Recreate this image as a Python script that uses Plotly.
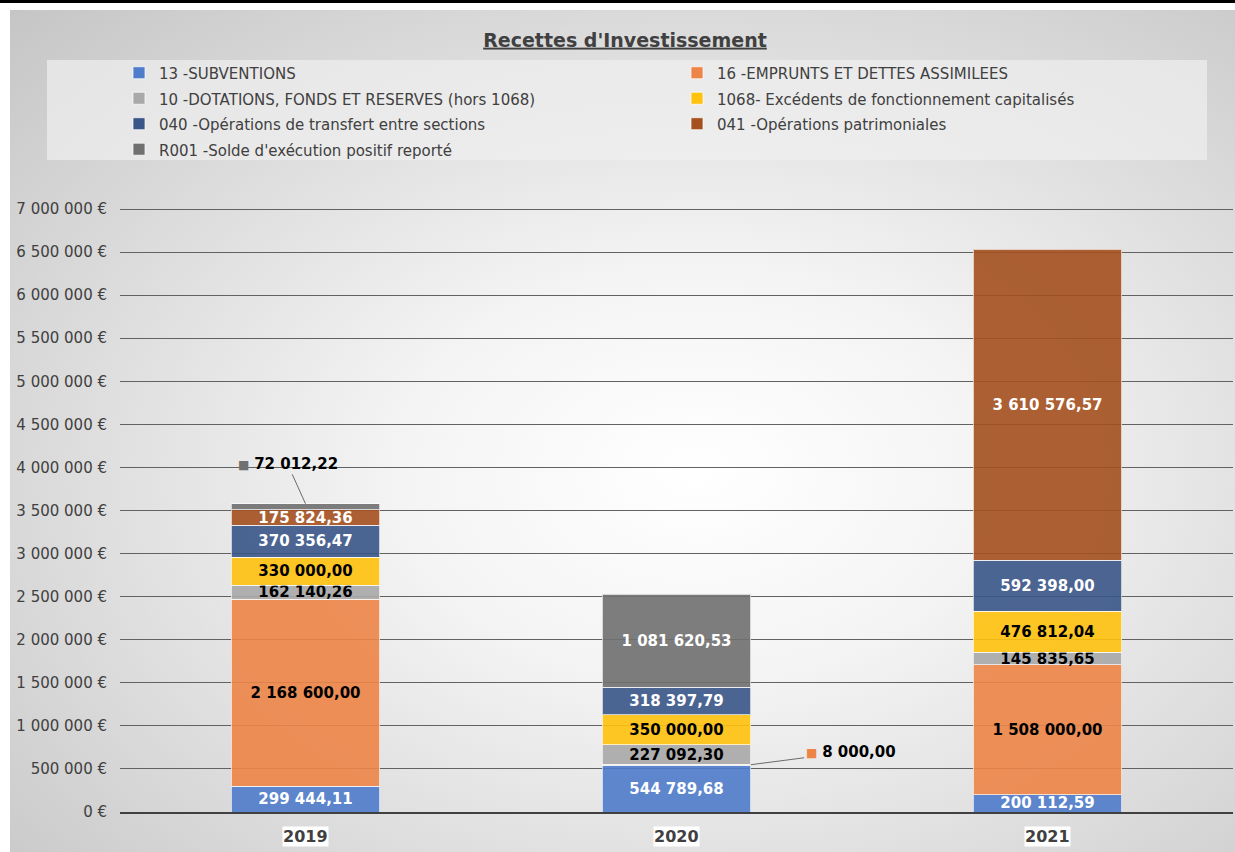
import base64
import plotly.graph_objects as go

# ---------------- data ----------------
years = ["2019", "2020", "2021"]
series_names = [
    "13 -SUBVENTIONS",
    "16 -EMPRUNTS ET DETTES ASSIMILEES",
    "10 -DOTATIONS, FONDS ET RESERVES (hors 1068)",
    "1068- Excédents de fonctionnement capitalisés",
    "040 -Opérations de transfert entre sections",
    "041 -Opérations patrimoniales",
    "R001 -Solde d'exécution positif reporté",
]
v_13 = [299444.11, 544789.68, 200112.59]
v_16 = [2168600.00, 8000.00, 1508000.00]
v_10 = [162140.26, 227092.30, 145835.65]
v_1068 = [330000.00, 350000.00, 476812.04]
v_040 = [370356.47, 318397.79, 592398.00]
v_041 = [175824.36, None, 3610576.57]
v_r001 = [72012.22, 1081620.53, None]
y_ticks = [0, 500000, 1000000, 1500000, 2000000, 2500000, 3000000,
           3500000, 4000000, 4500000, 5000000, 5500000, 6000000, 6500000, 7000000]

series_values = [v_13, v_16, v_10, v_1068, v_040, v_041, v_r001]
colors = ["#4f7ccb", "#ee8548", "#a9a9a9", "#ffc20e", "#3a5688", "#a4501f", "#707070"]
text_colors = ["white", "black", "black", "black", "white", "white", "white"]

# small segments labelled with callouts instead of inside text
callouts = [(6, 0), (1, 1)]  # (series index, year index)


def fmt(v, dec=2):
    return f"{v:,.{dec}f}".replace(",", " ").replace(".", ",")


tick_text = [fmt(t, 0) + " €" for t in y_ticks]

# ---------------- geometry ----------------
W, H = 1235, 852
ML, MR, MT, MB = 120, 2, 208, 40
PW = W - ML - MR
PH = H - MT - MB
BAR_W = 0.4
Y_MAX = 7012000


def px_x(px):
    return (px - ML) / PW


def px_y(py):
    return (H - MB - py) / PH


FONT = "DejaVu Sans"

fig = go.Figure()
for i, (name, vals) in enumerate(zip(series_names, series_values)):
    texts = []
    for j, v in enumerate(vals):
        if v is None or (i, j) in callouts:
            texts.append("")
        else:
            texts.append(fmt(v))
    fig.add_trace(go.Bar(
        name=f'<span style="font-size:15px">{name}</span>',
        x=years, y=vals, text=texts,
        textposition="inside", insidetextanchor="middle", textangle=0,
        constraintext="none",
        textfont=dict(family=FONT, size=15, color=text_colors[i], weight="bold"),
        marker=dict(color=colors[i], opacity=0.9,
                    line=dict(color="rgba(255,255,255,0.7)", width=1)),
        width=BAR_W, hoverinfo="skip",
    ))


def cum_below(si, yi):
    return sum((series_values[k][yi] or 0) for k in range(si))


def callout_text(s, yi):
    return (f'<span style="color:{colors[s]};font-size:12px">■</span> '
            f'<b>{fmt(series_values[s][yi])}</b>')


s, yi = callouts[0]
fig.add_annotation(
    x=yi, y=cum_below(s, yi) + series_values[s][yi],
    text=callout_text(s, yi),
    showarrow=True, arrowhead=0, arrowwidth=1, arrowcolor="#6a6a6a",
    ax=-18, ay=-40, font=dict(family=FONT, size=15, color="black"),
)
s, yi = callouts[1]
fig.add_annotation(
    x=yi + BAR_W / 2, y=cum_below(s, yi) + series_values[s][yi] / 2,
    text=callout_text(s, yi),
    showarrow=True, arrowhead=0, arrowwidth=1, arrowcolor="#6a6a6a",
    ax=100, ay=-13, font=dict(family=FONT, size=15, color="black"),
)

# year labels with white box
for k, yv in enumerate(years):
    fig.add_annotation(
        x=k, y=px_y(836), yref="paper", text=f"<b>{yv}</b>", showarrow=False,
        font=dict(family=FONT, size=16, color="#404040"), bgcolor="white",
        borderpad=0, yanchor="middle",
    )

# background gradient image
svg = (
    '<svg xmlns="http://www.w3.org/2000/svg" width="1225" height="842" preserveAspectRatio="none">'
    '<defs><radialGradient id="g" cx="0.56" cy="0.55" r="0.8">'
    '<stop offset="0" stop-color="#ffffff"/>'
    '<stop offset="0.3" stop-color="#f4f4f4"/>'
    '<stop offset="1" stop-color="#c4c4c4"/>'
    '</radialGradient></defs>'
    '<rect x="0" y="0" width="1225" height="842" fill="url(#g)"/></svg>'
)
src = "data:image/svg+xml;base64," + base64.b64encode(svg.encode()).decode()
fig.add_layout_image(dict(
    source=src, xref="paper", yref="paper",
    x=px_x(10), y=px_y(10), sizex=(W - 10) / PW, sizey=(H - 10) / PH,
    xanchor="left", yanchor="top", sizing="stretch", layer="below",
))

# top black band
fig.add_shape(type="rect", xref="paper", yref="paper",
              x0=px_x(0), x1=px_x(W), y0=px_y(3), y1=px_y(0),
              fillcolor="black", line=dict(width=0), layer="below")
# legend box
fig.add_shape(type="rect", xref="paper", yref="paper",
              x0=px_x(47), x1=px_x(1207), y0=px_y(160), y1=px_y(60),
              fillcolor="rgba(240,240,240,0.7)", line=dict(width=0), layer="below")

fig.update_layout(
    width=W, height=H,
    margin=dict(l=ML, r=MR, t=MT, b=MB),
    paper_bgcolor="white", plot_bgcolor="rgba(0,0,0,0)",
    barmode="stack",
    font=dict(family=FONT, color="#404040"),
    uniformtext=dict(minsize=15, mode="show"),
    title=dict(text="<b><u>Recettes d'Investissement</u></b>",
               x=625 / W, xanchor="center", y=1 - 40 / H, yanchor="middle",
               font=dict(family=FONT, size=19, color="#404040")),
    legend=dict(orientation="h", x=px_x(119), xanchor="left", y=px_y(55), yanchor="top",
                entrywidth=513, entrywidthmode="pixels", traceorder="normal",
                bgcolor="rgba(0,0,0,0)", font=dict(family=FONT, size=17.3, color="#404040"),
                itemclick=False, itemdoubleclick=False),
    showlegend=True,
)
fig.update_xaxes(type="category", range=[-0.5, 2.5], showticklabels=False, showgrid=False,
                 showline=True, linecolor="#404040", linewidth=2, ticks="", fixedrange=True)
fig.update_yaxes(range=[0, Y_MAX], tickvals=y_ticks, ticktext=tick_text,
                 showgrid=True, gridcolor="#626262", gridwidth=1, zeroline=False,
                 tickfont=dict(family=FONT, size=15, color="#404040"),
                 ticklabelstandoff=12, fixedrange=True)

fig.write_html("out.html", config={"displayModeBar": False},
               post_script="document.body.style.margin='0';document.body.style.padding='0';")
